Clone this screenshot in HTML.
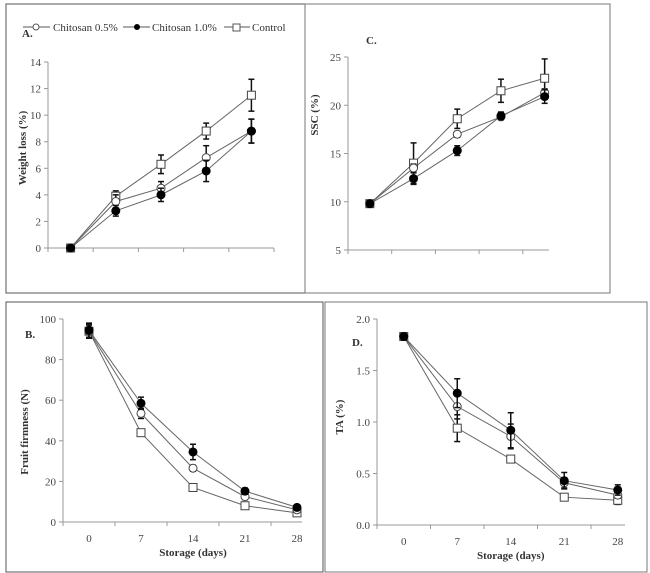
<!DOCTYPE html>
<html><head><meta charset="utf-8"><style>
body{margin:0;background:#fff;}
svg{display:block;font-family:"Liberation Serif",serif;}
</style></head><body>
<svg id="fig" width="650" height="573" viewBox="0 0 650 573">
<rect x="6" y="4" width="299" height="289" fill="none" stroke="#555" stroke-width="1"/>
<rect x="305" y="4" width="305" height="289" fill="none" stroke="#777" stroke-width="1"/>
<rect x="6" y="302" width="317" height="270" fill="none" stroke="#555" stroke-width="1"/>
<rect x="325" y="302" width="322" height="270" fill="none" stroke="#777" stroke-width="1"/>
<g id="legend">
 <line x1="23" y1="27" x2="50" y2="27" stroke="#555"/><circle cx="36" cy="27" r="3" fill="#fff" stroke="#555"/>
 <text x="53" y="31" font-size="11" fill="#333">Chitosan 0.5%</text>
 <line x1="123" y1="27" x2="150" y2="27" stroke="#555"/><circle cx="137" cy="27" r="3" fill="#000"/>
 <text x="152" y="31" font-size="11" fill="#333">Chitosan 1.0%</text>
 <line x1="224" y1="27" x2="250" y2="27" stroke="#555"/><rect x="233" y="24" width="7" height="7" fill="#fff" stroke="#555"/>
 <text x="252" y="31" font-size="11" fill="#333">Control</text>
</g>
</svg>
<script>
// Panel A: weight loss
const catsA=[0,7,14,21,28];
const a_c05=[0,3.5,4.5,6.8,8.8];
const a_c10=[0,2.8,4.0,5.8,8.8];
const a_ctl=[0,3.9,6.3,8.8,11.5];
const a_e05=[0.1,0.5,0.5,0.9,0.9];
const a_e10=[0.1,0.4,0.5,0.8,0.9];
const a_ectl=[0.1,0.4,0.7,0.6,1.2];
const a_ticks=[0,2,4,6,8,10,12,14];
// Panel C: SSC
const c_c05=[9.8,13.5,17.0,18.8,21.3];
const c_c10=[9.8,12.4,15.3,18.9,20.9];
const c_ctl=[9.8,14.0,18.6,21.5,22.8];
const c_e05=[0.3,0.4,0.3,0.3,0.4];
const c_e10=[0.3,0.6,0.5,0.4,0.7];
const c_ectl=[0.2,2.1,1.0,1.2,2.0];
const c_ticks=[5,10,15,20,25];
// Panel B: firmness
const b_c05=[94,53.5,26.5,12.5,6];
const b_c10=[94.5,58.5,34.5,15.2,7.2];
const b_ctl=[94,44,17,8,4.5];
const b_e05=[3.5,2.5,1.5,1.5,1];
const b_e10=[3.5,3,3.8,1.5,1];
const b_ectl=[3,1.5,1.2,1,1];
const b_ticks=[0,20,40,60,80,100];
// Panel D: TA
const d_c05=[1.83,1.15,0.86,0.41,0.29];
const d_c10=[1.83,1.28,0.92,0.43,0.34];
const d_ctl=[1.83,0.94,0.64,0.27,0.24];
const d_e05=[0.03,0.12,0.12,0.05,0.03];
const d_e10=[0.03,0.14,0.17,0.08,0.05];
const d_ectl=[0.03,0.13,0.02,0.03,0.04];
const d_ticks=["0.0","0.5","1.0","1.5","2.0"];

const NS="http://www.w3.org/2000/svg";
const svg=document.getElementById('fig');
function mk(tag,attrs,parent){const e=document.createElementNS(NS,tag);for(const k in attrs)e.setAttribute(k,attrs[k]);(parent||svg).appendChild(e);return e;}

function panel(p){
  const g=mk('g',{});
  
  
  const x=i=>p.x0+p.step*(i+0.5);
  const y=v=>p.yb-(v-p.ymin)/(p.ymax-p.ymin)*(p.yb-p.yt);
  mk('line',{x1:p.x0,y1:p.yt,x2:p.x0,y2:p.yb,stroke:'#999'},g);
  mk('line',{x1:p.x0,y1:p.yb,x2:p.xend,y2:p.yb,stroke:'#999'},g);
  p.ticks.forEach(t=>{const v=parseFloat(t);const yy=y(v);
    mk('line',{x1:p.x0-4,y1:yy,x2:p.x0,y2:yy,stroke:'#999'},g);
    const tx=mk('text',{x:p.x0-7,y:yy+4,'font-size':11,'text-anchor':'end',fill:'#444'},g);tx.textContent=t;
    
    
  });
  for(let i=0;i<=5;i++){const xx=p.x0+p.step*i; if(xx<=p.xend+1) mk('line',{x1:xx,y1:p.yb,x2:xx,y2:p.yb+4,stroke:'#999'},g);}
  if(p.xlabels){p.cats.forEach((c,i)=>{const t=mk('text',{x:x(i),y:p.yb+20,'font-size':11,'text-anchor':'middle',fill:'#444'},g);t.textContent=c;
    
    });
    const xt=mk('text',{x:(p.x0+p.x0+5*p.step)/2,y:p.yb+34,'font-size':11,'font-weight':'bold','text-anchor':'middle',fill:'#333'},g);xt.textContent='Storage (days)';
    
    
  }
  const yt=mk('text',{x:p.ylx,y:p.yly,'font-size':11,'font-weight':'bold','text-anchor':'middle',fill:'#333',transform:`rotate(-90 ${p.ylx} ${p.yly})`},g);yt.textContent=p.ytitle;
  
  
  const lb=mk('text',{x:p.lx,y:p.ly,'font-size':11,'font-weight':'bold',fill:'#333'},g);lb.textContent=p.letter;
  
  
  p.series.forEach(s=>{
    const pts=s.v.map((v,i)=>x(i)+','+y(v)).join(' ');
    const pl=mk('polyline',{points:pts,fill:'none',stroke:'#666','stroke-width':1},g);
    
    
  });
  p.series.forEach(s=>{
    s.v.forEach((v,i)=>{const xx=x(i),y1=y(v+s.e[i]),y2=y(v-s.e[i]);
      mk('line',{x1:xx,y1:y1,x2:xx,y2:y2,stroke:'#111','stroke-width':1.5},g);
      mk('line',{x1:xx-3,y1:y1,x2:xx+3,y2:y1,stroke:'#111','stroke-width':1.5},g);
      mk('line',{x1:xx-3,y1:y2,x2:xx+3,y2:y2,stroke:'#111','stroke-width':1.5},g);
      let m;
      if(s.key==='control') m=mk('rect',{x:xx-4,y:y(v)-4,width:8,height:8,fill:'#fff',stroke:'#444'},g);
      else if(s.key==='chitosan-05') m=mk('circle',{cx:xx,cy:y(v),r:4,fill:'#fff',stroke:'#444'},g);
      else m=mk('circle',{cx:xx,cy:y(v),r:4.5,fill:'#000'},g);
      
      
    });
  });
}
const ser=(a,b,c,ea,eb,ec)=>[{key:'control',v:c,e:ec},{key:'chitosan-05',v:a,e:ea},{key:'chitosan-10',v:b,e:eb}];
panel({name:'panel-a-weight-loss',x0:48,step:45.2,xend:274,yt:62,yb:248,ymin:0,ymax:14,ticks:a_ticks,cats:catsA,xlabels:false,
  ytitle:'Weight loss (%)',ylx:26,yly:148,letter:'A.',lx:22,ly:37,series:ser(a_c05,a_c10,a_ctl,a_e05,a_e10,a_ectl)});
panel({name:'panel-c-ssc',x0:348,step:43.7,xend:549,yt:57,yb:250,ymin:5,ymax:25,ticks:c_ticks,cats:catsA,xlabels:false,
  ytitle:'SSC (%)',ylx:318,yly:115,letter:'C.',lx:366,ly:44,series:ser(c_c05,c_c10,c_ctl,c_e05,c_e10,c_ectl)});
panel({name:'panel-b-firmness',x0:63,step:52,xend:302,yt:319,yb:522,ymin:0,ymax:100,ticks:b_ticks,cats:catsA,xlabels:true,
  ytitle:'Fruit firmness (N)',ylx:28,yly:432,letter:'B.',lx:25,ly:338,series:ser(b_c05,b_c10,b_ctl,b_e05,b_e10,b_ectl)});
panel({name:'panel-d-ta',x0:377,step:53.5,xend:625,yt:319,yb:525,ymin:0,ymax:2,ticks:d_ticks,cats:catsA,xlabels:true,
  ytitle:'TA (%)',ylx:343,yly:417,letter:'D.',lx:352,ly:346,series:ser(d_c05,d_c10,d_ctl,d_e05,d_e10,d_ectl)});
</script>
</body></html>
